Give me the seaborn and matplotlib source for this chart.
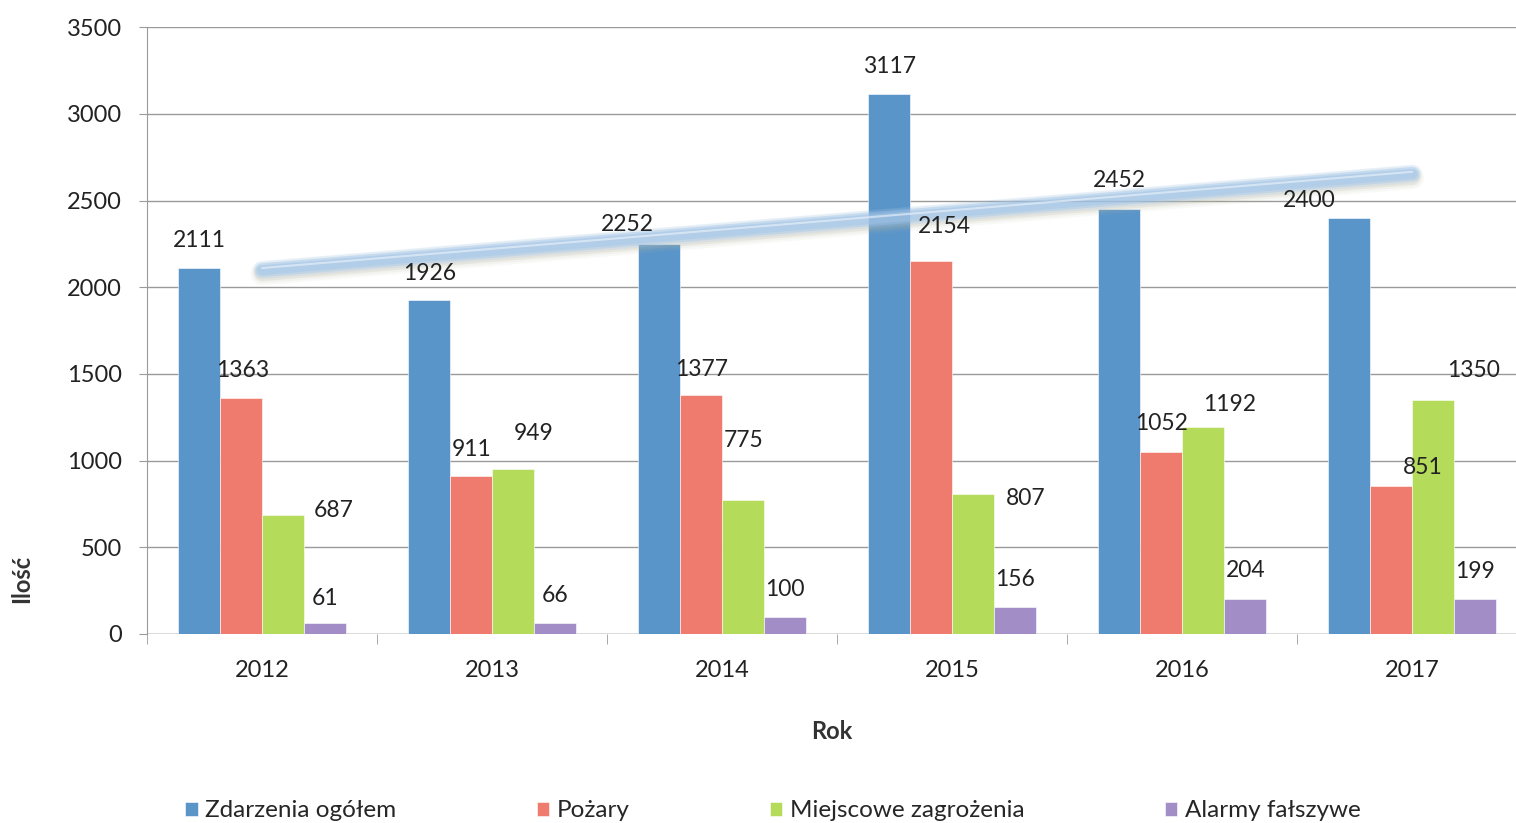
import pandas as pd
import numpy as np

import seaborn as sns
import matplotlib.pyplot as plt

sns.set_style("white")
plt.rcParams['font.family'] = ['Lato', 'DejaVu Sans']

DPI = 100
FIGSIZE = (15.16, 8.23)

years = ["2012", "2013", "2014", "2015", "2016", "2017"]
series = ["Zdarzenia ogółem", "Pożary", "Miejscowe zagrożenia", "Alarmy fałszywe"]
zdarzenia = [2111, 1926, 2252, 3117, 2452, 2400]
pozary = [1363, 911, 1377, 2154, 1052, 851]
miejscowe = [687, 949, 775, 807, 1192, 1350]
alarmy = [61, 66, 100, 156, 204, 199]
colors = ["#5a95c9", "#ef7a6e", "#b4db5a", "#a28dc6"]

# label offsets in pixels (dx, dy) from the top centre of each bar, per series
label_dx = [
    [0, 0, -32, 0, 0, -40],
    [2, 0, 0, 13, 0, 31],
    [51, 20, 0, 52, 26, 40],
    [0, 0, 0, 0, 0, 0],
]
label_dy = [
    [27, 27, 19, 27, 28, 17],
    [27, 27, 26, 34, 28, 19],
    [4, 36, 59, -4, 23, 29],
    [25, 27, 27, 27, 28, 28],
]

df = pd.DataFrame({"Rok": years, series[0]: zdarzenia, series[1]: pozary,
                   series[2]: miejscowe, series[3]: alarmy})
long = df.melt(id_vars="Rok", var_name="Seria", value_name="Ilość")

fig, ax = plt.subplots(figsize=FIGSIZE, dpi=DPI)
fig.subplots_adjust(left=0.097, right=1.0, top=0.967, bottom=0.2297)

sns.barplot(data=long, x="Rok", y="Ilość", hue="Seria", hue_order=series,
            palette=colors, width=0.73, ax=ax, saturation=1,
            edgecolor="#ffffff", linewidth=0.4, zorder=3)

# linear trend of all incidents
xs = np.arange(len(years))
coef = np.polyfit(xs, zdarzenia, 1)
ends = xs[[0, -1]]
trend = np.polyval(coef, ends)
for lw, a in [(17, 0.07), (14, 0.1), (11, 0.2)]:
    ax.plot(ends, trend - 20, color="#b8b8a0", lw=lw, alpha=a,
            solid_capstyle="round", zorder=4)
for lw, a in [(13, 0.22), (10, 0.4), (7, 0.45)]:
    ax.plot(ends, trend, color="#a0c5ec", lw=lw, alpha=a,
            solid_capstyle="round", zorder=5)
ax.plot(ends, trend + 12, color="#eef5fc", lw=1.5, alpha=0.6,
        solid_capstyle="round", zorder=6)

for i, cont in enumerate(ax.containers):
    for j, bar in enumerate(cont):
        ax.annotate(str(int(bar.get_height())),
                    (bar.get_x() + bar.get_width() / 2, bar.get_height()),
                    xytext=(label_dx[i][j], label_dy[i][j]),
                    textcoords="offset pixels", ha="center", va="center",
                    fontsize=16.5, color="#222222", zorder=7)

ax.set_ylim(0, 3500)
ax.set_xlim(-0.5, 5.45)
ax.set_yticks(range(0, 3501, 500))
ax.yaxis.grid(True, color="#9a9a9a", lw=1)
ax.set_axisbelow(True)
for s in ["top", "right", "bottom"]:
    ax.spines[s].set_visible(False)
ax.spines["left"].set_color("#9a9a9a")
ax.axhline(0, color="#9a9a9a", lw=1, zorder=2)
ax.tick_params(axis="y", labelsize=17, length=6, color="#9a9a9a",
               left=True, labelcolor="#222222", pad=12)
ax.tick_params(axis="x", labelsize=17, length=0, labelcolor="#222222", pad=19)
ax.set_xticks(np.arange(-0.5, 5.5, 1), minor=True)
ax.tick_params(axis="x", which="minor", length=7, color="#9a9a9a", bottom=True)

ax.set_xlabel("Rok", fontsize=17, fontweight="bold", color="#333333", labelpad=28)
ax.set_ylabel("Ilość", fontsize=17, fontweight="bold", color="#333333")
ax.yaxis.set_label_coords(-0.083, 0.09)

ax.legend(loc="lower left", bbox_to_anchor=(0.012, -0.345), ncol=4,
          frameon=False, fontsize=17.5, handlelength=0.5, handleheight=0.5,
          handletextpad=0.3, columnspacing=5.8)

fig.savefig("out.png", dpi=DPI)
